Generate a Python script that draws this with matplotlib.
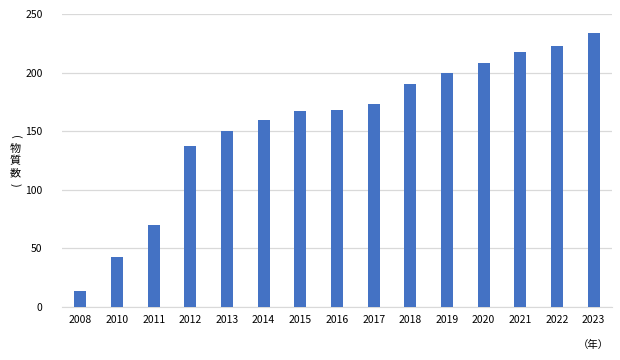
import matplotlib
matplotlib.use("Agg")
import matplotlib.pyplot as plt

plt.rcParams['font.family'] = ['Noto Sans CJK JP', 'DejaVu Sans']

years = ["2008", "2010", "2011", "2012", "2013", "2014", "2015", "2016",
         "2017", "2018", "2019", "2020", "2021", "2022", "2023"]
counts = [14, 43, 70, 137, 150, 160, 167, 168, 173, 190, 200, 208, 218, 223, 234]
yticks = [0, 50, 100, 150, 200, 250]
ylabel_chars = ["(", "物", "質", "数", ")"]

fig = plt.figure(figsize=(6.2, 3.6), dpi=100)
ax = fig.add_axes([0.1, 0.147, 0.887, 0.814])
x = list(range(len(years)))
ax.bar(x, counts, width=0.33, color="#4472C4", zorder=3)
ax.set_xlim(-0.5, len(years) - 0.5)
ax.set_ylim(0, 250)
ax.set_yticks(yticks)
ax.set_xticks(x)
ax.set_xticklabels(years)
ax.yaxis.grid(True, color="#D9D9D9", linewidth=0.9, zorder=0)
for s in ["top", "right", "left"]:
    ax.spines[s].set_visible(False)
ax.spines["bottom"].set_color("#D9D9D9")
ax.tick_params(axis="both", length=0, labelsize=7.5, colors="black", pad=6)
ax.tick_params(axis="y", pad=14)

ypix = [137, 149, 161, 173, 185]
rots = [-90, 0, 0, 0, -90]
for ch, yp, r in zip(ylabel_chars, ypix, rots):
    fig.text(15 / 620, 1 - yp / 360, ch, ha="center", va="center",
             fontsize=8, rotation=r)
fig.text(593 / 620, 1 - 345 / 360, "（年）", ha="center", va="center", fontsize=7.5)
fig.savefig("out.png", dpi=100)
